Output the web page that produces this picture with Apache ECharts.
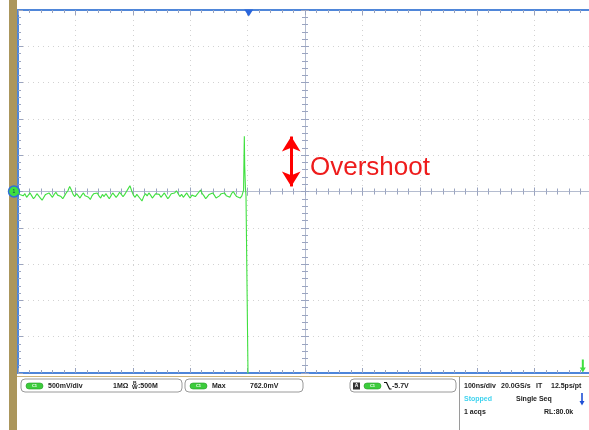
<!DOCTYPE html>
<html>
<head>
<meta charset="utf-8">
<script src="https://cdn.jsdelivr.net/npm/echarts@6/dist/echarts.min.js"></script>
<style>
  html, body { margin: 0; padding: 0; background: #fff; }
  #scope { width: 589px; height: 430px; }
</style>
</head>
<body>
<div id="scope"></div>
<script>
// screen: 100 ns/div horizontally, 500 mV/div vertically, 10 x 10 divisions
const timeMin = -500, timeMax = 500, timeDiv = 100;
const voltMin = -2.5, voltMax = 2.5, voltDiv = 0.5;

// baseline noise before the edge, one sample every 3 ns from -500 ns
const noiseStart = -500, noiseStep = 3;
const noiseVolts = [
  -0.01, -0.04, -0.02, -0.06, -0.03, -0.08, -0.05, -0.02, -0.06, -0.10,
  -0.07, -0.03, -0.05, -0.09, -0.12, -0.08, -0.04, -0.06, -0.02, -0.05,
  -0.08, -0.04, -0.01, -0.05, -0.03, -0.07, -0.10, -0.06, -0.02, 0.01,
  0.07, 0.02, -0.04, -0.07, -0.03, -0.06, -0.09, -0.05, -0.02, -0.06,
  -0.04, -0.08, -0.11, -0.06, -0.03, -0.05, -0.02, -0.06, -0.09, -0.04,
  -0.07, -0.03, -0.05, -0.10, -0.06, -0.02, -0.04, -0.08, -0.05, -0.01,
  -0.03, -0.07, -0.04, 0.00, 0.04, 0.08, 0.01, -0.05, -0.08, -0.04,
  -0.06, -0.10, -0.13, -0.07, -0.03, -0.06, -0.02, -0.05, -0.09, -0.06,
  -0.03, -0.01, -0.04, -0.08, -0.05, -0.02, -0.06, -0.10, -0.07, -0.03,
  -0.05, -0.02, 0.01, -0.03, -0.07, -0.04, -0.08, -0.05, -0.02, -0.06,
  -0.09, -0.05, -0.03, -0.07, -0.04, -0.01, 0.02, -0.03, -0.06, -0.10,
  -0.07, -0.04, -0.06, -0.02, -0.05, -0.09, -0.11, -0.06, -0.03, -0.05,
  -0.02, -0.06, -0.04, -0.08, -0.03, 0.00, -0.04, -0.07, -0.05, -0.09,
  -0.06
];
// overshoot spike and the falling edge
const edgeTimes = [-107, -106.3, -105.7, -105, -103.8, -102.8, -99.3, -98.8];
const edgeVolts = [0.02, 0.45, 0.762, 0.35, 0.05, -0.05, -2.5, -2.9];

// annotation arrow (data coords)
const arrowTime = -24, arrowTop = 0.757, arrowBottom = 0.07;
const triggerTime = -98;
const levelTime = 484;

const trace = noiseVolts.map((v, i) => [noiseStart + i * noiseStep, v])
  .concat(edgeTimes.map((t, i) => [t, edgeVolts[i]]));

const chart = echarts.init(document.getElementById('scope'), null, { renderer: 'canvas' });

const G = { left: 18, top: 10, width: 574, height: 363, outerBoundsMode: 'none', containLabel: false };
const edgeBlue = '#4f86d9';
const tickGray = '#9aa4c0';
const FONT = 'Liberation Sans';

function edgeX(pos) {
  return {
    gridIndex: 0, type: 'value', position: pos, min: timeMin, max: timeMax, interval: timeDiv,
    axisLine: { onZero: false, lineStyle: { color: edgeBlue, width: 2 } },
    axisTick: { inside: true, length: 5, lineStyle: { color: tickGray } },
    minorTick: { show: true, splitNumber: 5, length: 3, lineStyle: { color: tickGray } },
    axisLabel: { show: false },
    splitLine: { show: pos === 'bottom', lineStyle: { color: '#d2d2d2', type: [1, 4] } }
  };
}
function edgeY(pos) {
  const left = pos === 'left';
  return {
    gridIndex: 0, type: 'value', position: pos, min: voltMin, max: voltMax, interval: voltDiv,
    axisLine: { onZero: false, lineStyle: { color: edgeBlue, width: 2 } },
    axisTick: { show: left, inside: true, length: 5, lineStyle: { color: tickGray } },
    minorTick: { show: left, splitNumber: 5, length: 3, lineStyle: { color: tickGray } },
    axisLabel: { show: false },
    splitLine: { show: left, lineStyle: { color: '#d2d2d2', type: [1, 4] } }
  };
}
function centerX(pos) {
  return {
    gridIndex: 1, type: 'value', position: pos, min: timeMin, max: timeMax, interval: timeDiv,
    axisLine: { onZero: true, lineStyle: { color: '#b4bccf', width: 1 } },
    axisTick: { inside: true, length: 4, lineStyle: { color: tickGray } },
    minorTick: { show: true, splitNumber: 5, length: 3, lineStyle: { color: tickGray } },
    axisLabel: { show: false }, splitLine: { show: false }
  };
}
function centerY(pos) {
  return {
    gridIndex: 1, type: 'value', position: pos, min: voltMin, max: voltMax, interval: voltDiv,
    axisLine: { onZero: true, lineStyle: { color: '#b4bccf', width: 1 } },
    axisTick: { inside: true, length: 4, lineStyle: { color: tickGray } },
    minorTick: { show: true, splitNumber: 5, length: 3, lineStyle: { color: tickGray } },
    axisLabel: { show: false }, splitLine: { show: false }
  };
}

function txt(x, y, s, opt) {
  return Object.assign({
    type: 'text', x: x, y: y, z: 100,
    style: { text: s, fill: '#222', font: 'bold 7px ' + FONT, textVerticalAlign: 'middle' }
  }, opt || {});
}
function pill(x, y) {
  return [
    { type: 'rect', z: 100, shape: { x: x, y: y, width: 17, height: 6, r: 3 },
      style: { fill: '#3ccc3c', stroke: '#2a9a2a', lineWidth: 0.6 } },
    { type: 'text', z: 101, x: x + 8.5, y: y + 3,
      style: { text: 'C1', fill: '#fff', font: 'bold 4px ' + FONT, textAlign: 'center', textVerticalAlign: 'middle' } }
  ];
}
function box(x, w) {
  return { type: 'rect', z: 99, shape: { x: x, y: 379, width: w, height: 13, r: 4 },
    style: { fill: '#fff', stroke: '#9a9a9a', lineWidth: 1 } };
}

const row1 = 386, row2 = 399, row3 = 412;
const graphics = [
  { type: 'rect', z: 0, shape: { x: 9, y: 0, width: 8, height: 430 }, style: { fill: '#ab965c' } },
  { type: 'line', z: 98, shape: { x1: 17, y1: 376.5, x2: 589, y2: 376.5 }, style: { stroke: '#cdb57c', lineWidth: 1 } },
  { type: 'line', z: 98, shape: { x1: 459.5, y1: 377, x2: 459.5, y2: 430 }, style: { stroke: '#9a9a9a', lineWidth: 1 } },
  box(21, 161), box(185, 118), box(350, 106),
  ...pill(26, 383),
  txt(48, row1, '500mV/div'),
  txt(113, row1, '1MΩ'),
  txt(133, row1 - 2, 'B', { style: { text: 'B', fill: '#222', font: 'bold 5px ' + FONT, textVerticalAlign: 'middle' } }),
  txt(132, row1 + 1, 'W', { style: { text: 'W', fill: '#222', font: 'bold 6px ' + FONT, textVerticalAlign: 'middle' } }),
  txt(138, row1, ':500M'),
  ...pill(190, 383),
  txt(212, row1, 'Max'),
  txt(250, row1, '762.0mV'),
  { type: 'rect', z: 100, shape: { x: 353, y: 382.5, width: 7, height: 7 }, style: { fill: '#333' } },
  txt(356.5, row1, 'A', { style: { text: 'A', fill: '#fff', font: 'bold 5px ' + FONT, textAlign: 'center', textVerticalAlign: 'middle' } }),
  ...pill(364, 383),
  { type: 'polyline', z: 100, shape: { points: [[384, 382.5], [386.5, 382.5], [389.5, 389], [391.5, 389]] },
    style: { stroke: '#111', lineWidth: 1.2, fill: null } },
  txt(392, row1, '-5.7V'),
  txt(464, row1, '100ns/div'),
  txt(501, row1, '20.0GS/s'),
  txt(536, row1, 'IT'),
  txt(551, row1, '12.5ps/pt'),
  txt(464, row2, 'Stopped', { style: { text: 'Stopped', fill: '#3fd3ef', font: 'bold 7px ' + FONT, textVerticalAlign: 'middle' } }),
  txt(516, row2, 'Single Seq'),
  { type: 'line', z: 100, shape: { x1: 582, y1: 393, x2: 582, y2: 402 }, style: { stroke: '#1f4fd6', lineWidth: 1.6 } },
  { type: 'polygon', z: 100, shape: { points: [[579.5, 401], [584.5, 401], [582, 405.5]] }, style: { fill: '#1f4fd6' } },
  txt(464, row3, '1 acqs'),
  txt(544, row3, 'RL:80.0k'),
  { type: 'text', z: 100, x: 310, y: 168,
    style: { text: 'Overshoot', fill: '#ee1c1c', font: '26px ' + FONT, textVerticalAlign: 'middle' } }
];

chart.setOption({
  animation: false,
  backgroundColor: '#fff',
  grid: [
    Object.assign({}, G),
    Object.assign({}, G)
  ],
  xAxis: [edgeX('bottom'), edgeX('top'), centerX('bottom'), centerX('top')],
  yAxis: [edgeY('left'), edgeY('right'), centerY('left'), centerY('right')],
  graphic: graphics,
  series: [{
    type: 'line',
    xAxisIndex: 0, yAxisIndex: 0,
    data: trace,
    showSymbol: false, symbol: 'none',
    clip: true, z: 5,
    lineStyle: { color: '#3fe03f', width: 1.1 },
    markLine: {
      silent: true, symbol: ['arrow', 'arrow'], symbolSize: [14, 15],
      label: { show: false },
      lineStyle: { color: '#ff0000', width: 3, type: 'solid' },
      data: [[{ coord: [arrowTime, arrowTop] }, { coord: [arrowTime, arrowBottom] }]]
    },
    markPoint: {
      silent: true,
      data: [
        { coord: [timeMin, 0], symbol: 'circle', symbolSize: 11, symbolOffset: [-4, 0],
          itemStyle: { color: '#3ee03e', borderColor: '#2f6fd8', borderWidth: 1.5 },
          label: { show: true, formatter: '1', fontSize: 5, color: '#135', fontFamily: FONT } },
        { coord: [triggerTime, voltMax], symbol: 'triangle', symbolRotate: 180, symbolSize: [9, 7],
          symbolOffset: [0, 3], itemStyle: { color: '#2a66dc' }, label: { show: false } },
        { coord: [levelTime, voltMin], symbol: 'path://M2,0 L4,0 L4,8 L6,8 L3,13 L0,8 L2,8 Z', symbolSize: [6, 13],
          symbolOffset: [0, -7], itemStyle: { color: '#3ee03e' }, label: { show: false } }
      ]
    }
  }]
});
</script>
</body>
</html>
